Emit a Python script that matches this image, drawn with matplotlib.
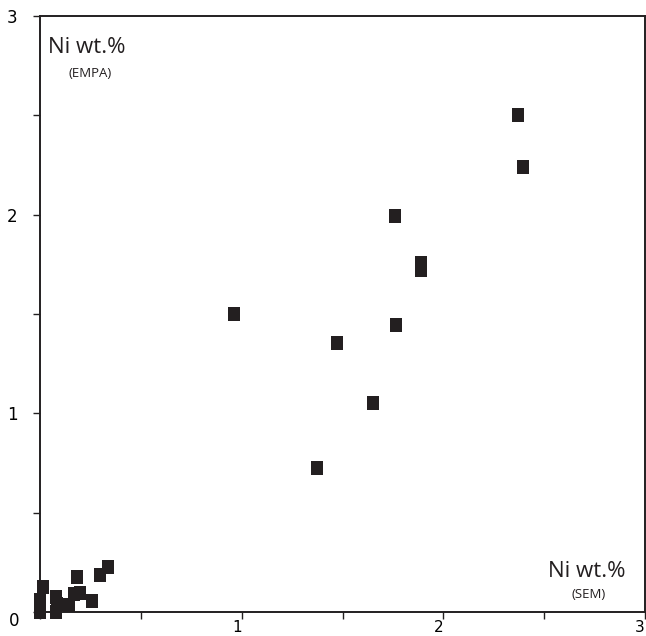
import matplotlib
matplotlib.use("Agg")
import matplotlib.pyplot as plt
from matplotlib.ticker import MultipleLocator

# Data: Ni wt.% by SEM (x) vs EMPA (y)
sem = [2.371, 2.396, 1.762, 1.887, 1.887, 0.962, 1.765, 1.471, 1.652, 1.372,
       0.015, 0.0, 0.0, 0.0, 0.08, 0.085, 0.08, 0.144, 0.17, 0.20, 0.183,
       0.258, 0.297, 0.337]
empa = [2.501, 2.241, 1.993, 1.756, 1.721, 1.502, 1.444, 1.352, 1.054, 0.723,
        0.126, 0.06, 0.025, 0.0, 0.075, 0.04, 0.0, 0.035, 0.09, 0.095, 0.176,
        0.055, 0.186, 0.226]
major_ticks = [0, 1, 2, 3]
x_tick_labels = ['', '1', '2', '3']
y_tick_labels = ['', '1', '2', '3']

fig = plt.figure(figsize=(6.46, 6.36), dpi=100)
ax = fig.add_axes([40/646, 1-612/636, 605/646, 596/636])
ax.set_xlim(0, 3)
ax.set_ylim(0, 3)

rect_marker = [(-0.85, -1), (0.85, -1), (0.85, 1), (-0.85, 1), (-0.85, -1)]
ax.plot(sem, empa, linestyle='none', marker=rect_marker, markersize=9.6,
        color='#231f20', markeredgewidth=0, clip_on=False, zorder=5)

for s in ax.spines.values():
    s.set_linewidth(1.4)
    s.set_color('#231f20')

ax.xaxis.set_minor_locator(MultipleLocator(0.5))
ax.yaxis.set_minor_locator(MultipleLocator(0.5))
ax.set_xticks(major_ticks)
ax.set_yticks(major_ticks)
ax.set_xticklabels(x_tick_labels)
ax.set_yticklabels(y_tick_labels)
ax.tick_params(which='both', direction='out', length=5, width=1, color='#231f20')
ax.tick_params(axis='x', labelsize=11, pad=0.5)
ax.tick_params(axis='y', labelsize=12, pad=11)
for lab in ax.get_xticklabels():
    lab.set_horizontalalignment('right')

fig.text(14/646, 1-621/636, '0', fontsize=12, ha='center', va='center')

fam = ['Open Sans', 'DejaVu Sans']
ax.text(0.013, 0.965, 'Ni wt.%', transform=ax.transAxes, fontsize=16,
        family=fam, ha='left', va='top', color='#231f20')
ax.text(0.083, 0.903, '(EMPA)', transform=ax.transAxes, fontsize=9.5,
        family=fam, ha='center', va='center', color='#231f20')
ax.text(0.967, 0.058, 'Ni wt.%', transform=ax.transAxes, fontsize=16,
        family=fam, ha='right', va='baseline', color='#231f20')
ax.text(0.907, 0.030, '(SEM)', transform=ax.transAxes, fontsize=9.5,
        family=fam, ha='center', va='center', color='#231f20')

fig.savefig('out.png', dpi=100)
